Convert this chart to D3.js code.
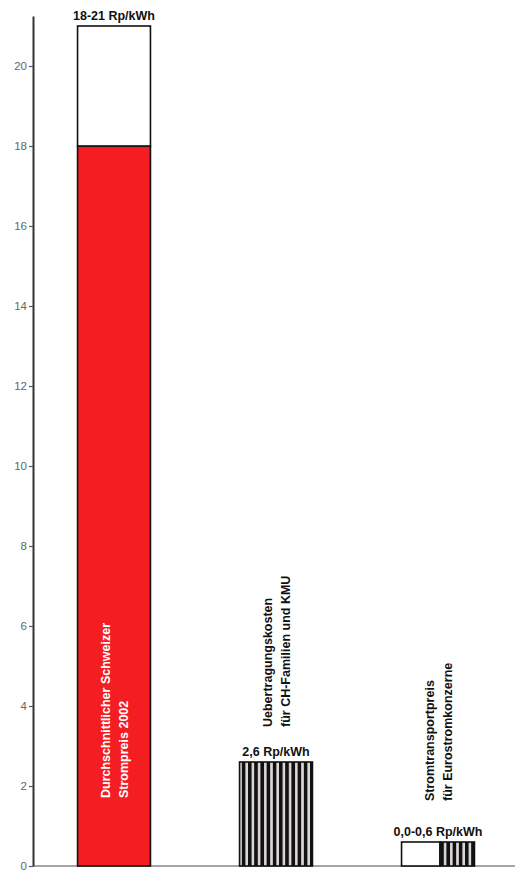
<!DOCTYPE html>
<html>
<head>
<meta charset="utf-8">
<script src="https://cdn.jsdelivr.net/npm/d3@7"></script>
<style>
  html, body { margin: 0; padding: 0; background: #fff; }
  svg { display: block; font-family: "Liberation Sans", Arial, sans-serif; }
</style>
</head>
<body>
<script>
// Electricity price comparison (Rp/kWh)
const categories = ["Schweizer Strompreis", "Uebertragungskosten", "Stromtransportpreis"];
const labelLines = [
  ["Durchschnittlicher Schweizer", "Strompreis 2002"],
  ["Uebertragungskosten", "für CH-Familien und KMU"],
  ["Stromtransportpreis", "für Eurostromkonzerne"]
];
const lowValues = [18, 2.6, 0.0];
const highValues = [21, 2.6, 0.6];
const valueLabels = ["18-21 Rp/kWh", "2,6 Rp/kWh", "0,0-0,6 Rp/kWh"];
const yTicks = [0, 2, 4, 6, 8, 10, 12, 14, 16, 18, 20];

const W = 519, H = 872;
const svg = d3.select("body").append("svg").attr("width", W).attr("height", H);

const x = d3.scaleBand().domain(categories).range([33, 519])
  .paddingInner(0.55).paddingOuter(0.275);
const y = d3.scaleLinear().domain([0, 21.25]).range([866, 16]);

// vertical hatch used for transmission costs
const defs = svg.append("defs");
const pat = defs.append("pattern").attr("id", "hatch")
  .attr("patternUnits", "userSpaceOnUse").attr("width", 6.2).attr("height", 10);
pat.append("rect").attr("width", 6.2).attr("height", 10).attr("fill", "#dcd8d8");
pat.append("rect").attr("x", 0).attr("width", 3.6).attr("height", 10).attr("fill", "#111");

// baseline
svg.append("line").attr("x1", 33).attr("x2", 515).attr("y1", y(0)).attr("y2", y(0))
  .attr("stroke", "#888").attr("stroke-width", 1.5);

// y axis
const yAxis = svg.append("g").attr("transform", "translate(33,0)")
  .call(d3.axisLeft(y).tickValues(yTicks).tickSize(4).tickSizeOuter(0).tickPadding(2));
yAxis.select(".domain").attr("stroke", "#333").attr("stroke-width", 2);
yAxis.selectAll(".tick line").attr("stroke", "#555").attr("stroke-width", 1.2);
yAxis.selectAll(".tick text").attr("fill", "#666").attr("font-size", 11.5)
  .attr("font-family", "'Liberation Sans', Arial, sans-serif");

const bw = x.bandwidth();
const outline = { stroke: "#111", "stroke-width": 1.6 };
function box(g, x0, w, v0, v1, fill) {
  const r = g.append("rect").attr("x", x0).attr("width", w)
    .attr("y", y(v1)).attr("height", y(v0) - y(v1)).attr("fill", fill);
  Object.entries(outline).forEach(([k, v]) => r.attr(k, v));
  return r;
}

const bars = svg.append("g");
// bar 1: average price, solid up to the lower bound, open range above it
box(bars, x(categories[0]), bw, 0, lowValues[0], "#f41d22");
box(bars, x(categories[0]), bw, lowValues[0], highValues[0], "#fff");
// bar 2: transmission cost
box(bars, x(categories[1]), bw, lowValues[1] === highValues[1] ? 0 : lowValues[1], highValues[1], "url(#hatch)");
// bar 3: range 0.0 to 0.6, open half and hatched half
const half = bw / 2;
box(bars, x(categories[2]), half + 2, lowValues[2], highValues[2], "#fff");
box(bars, x(categories[2]) + half + 2, bw - half - 2, lowValues[2], highValues[2], "url(#hatch)");

// value labels above bars
svg.append("g").selectAll("text").data(categories).join("text")
  .attr("x", d => x(d) + bw / 2)
  .attr("y", (d, i) => y(highValues[i]) - 6)
  .attr("text-anchor", "middle")
  .attr("font-size", 12.5).attr("font-weight", "bold").attr("fill", "#111")
  .text((d, i) => valueLabels[i]);

// rotated category labels
const labelBottom = [y(0) - 68, y(highValues[1]) - 35, y(highValues[2]) - 41];
const labelFill = ["#fff", "#111", "#111"];
categories.forEach((c, i) => {
  const cx = x(c) + bw / 2;
  const t = svg.append("text")
    .attr("transform", `translate(${cx},${labelBottom[i]}) rotate(-90)`)
    .attr("font-size", 12.5).attr("font-weight", "bold").attr("fill", labelFill[i]);
  labelLines[i].forEach((line, j) => {
    t.append("tspan").attr("x", 0).attr("y", (j === 0 ? -9 : 9) + 4.5).text(line);
  });
});
</script>
</body>
</html>
